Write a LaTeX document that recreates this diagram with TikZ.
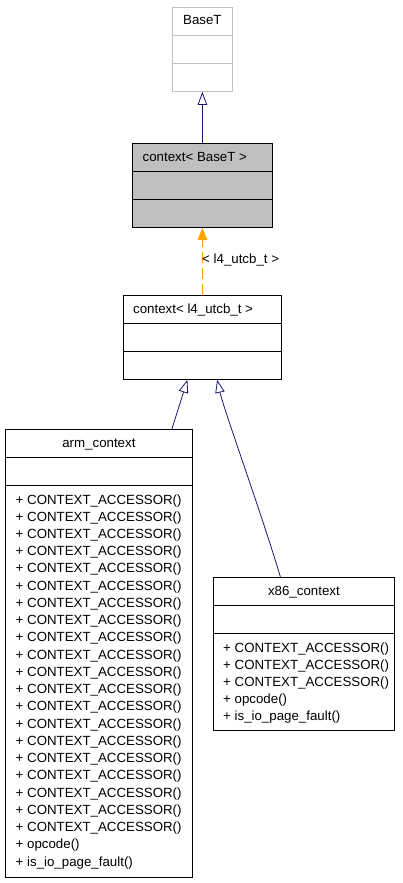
\documentclass[tikz,border=0pt]{standalone}
\usepackage{fontspec}
\setmainfont{Liberation Sans}
\usetikzlibrary{arrows.meta,calc}
\definecolor{edgeblue}{HTML}{191970}
\definecolor{edgeorange}{HTML}{FFA500}
\definecolor{boxgray}{HTML}{BFBFBF}
\tikzset{
  classbox/.style={draw=black, fill=white, line width=0.8pt, rectangle, inner sep=0pt, anchor=north west},
  divider/.style={line width=0.8pt},
  txt/.style={inner sep=0pt, font=\fontsize{13.3}{17.2}\selectfont, anchor=base west},
  ttl/.style={txt, anchor=base},
  inherit/.style={draw=edgeblue, line width=0.8pt, -{Triangle[open, length=13pt, width=9.5pt]}},
  tmpl/.style={draw=edgeorange, line width=0.8pt, dash pattern=on 11pt off 5pt, -{Triangle[length=12pt, width=9.5pt]}},
}
\begin{document}
\begin{tikzpicture}[x=1pt,y=-1pt]
\useasboundingbox (0,0) rectangle (403,883);

% BaseT
\node[classbox, draw=boxgray, minimum width=60pt, minimum height=84pt] (baseT) at (172,7) {};
\draw[divider, boxgray] ($(baseT.north west)+(0,28)$) -- ($(baseT.north east)+(0,28)$);
\draw[divider, boxgray] ($(baseT.north west)+(0,56)$) -- ($(baseT.north east)+(0,56)$);
\node[ttl] (baseTname) at ($(baseT.north)+(0,18)$) {BaseT};

% context< BaseT >
\node[classbox, fill=boxgray, minimum width=140pt, minimum height=84pt] (ctxB) at (132,143) {};
\draw[divider] ($(ctxB.north west)+(0,28)$) -- ($(ctxB.north east)+(0,28)$);
\draw[divider] ($(ctxB.north west)+(0,56)$) -- ($(ctxB.north east)+(0,56)$);
\node[txt] (ctxBname) at ($(ctxB.north west)+(10.5,18)$) {context< BaseT >};

% context< l4_utcb_t >
\node[classbox, minimum width=158pt, minimum height=84pt] (ctxL) at (123,295) {};
\draw[divider] ($(ctxL.north west)+(0,28)$) -- ($(ctxL.north east)+(0,28)$);
\draw[divider] ($(ctxL.north west)+(0,56)$) -- ($(ctxL.north east)+(0,56)$);
\node[txt] (ctxLname) at ($(ctxL.north west)+(10,18)$) {context< l4\_utcb\_t >};

% arm_context
\node[classbox, minimum width=187pt, minimum height=448pt] (arm) at (5,429) {};
\draw[divider] ($(arm.north west)+(0,28)$) -- ($(arm.north east)+(0,28)$);
\draw[divider] ($(arm.north west)+(0,56)$) -- ($(arm.north east)+(0,56)$);
\node[ttl] (armname) at ($(arm.north)+(0,18)$) {arm\_context};
\foreach \i in {0,...,19}
  \node[txt] (armm\i) at ($(arm.north west)+(10.5,75+\i*17.24)$) {+ CONTEXT\_ACCESSOR()};
\node[txt] (armop) at ($(arm.north west)+(10.5,75+20*17.24)$) {+ opcode()};
\node[txt] (armio) at ($(arm.north west)+(10.5,75+21*17.24)$) {+ is\_io\_page\_fault()};

% x86_context
\node[classbox, minimum width=181pt, minimum height=153pt] (x86) at (213,577) {};
\draw[divider] ($(x86.north west)+(0,28)$) -- ($(x86.north east)+(0,28)$);
\draw[divider] ($(x86.north west)+(0,56)$) -- ($(x86.north east)+(0,56)$);
\node[ttl] (x86name) at ($(x86.north)+(0,18)$) {x86\_context};
\foreach \i in {0,1,2}
  \node[txt] (x86m\i) at ($(x86.north west)+(10,75+\i*17.1)$) {+ CONTEXT\_ACCESSOR()};
\node[txt] (x86op) at ($(x86.north west)+(10,75+3*17.1)$) {+ opcode()};
\node[txt] (x86io) at ($(x86.north west)+(10,75+4*17.1)$) {+ is\_io\_page\_fault()};

% edges
\draw[inherit] (ctxB.north) -- (baseT.south);
\draw[tmpl] (ctxL.north) -- (ctxB.south);
\node[txt] (tlabel) at (202,263) {< l4\_utcb\_t >};
\draw[inherit] ([xshift=73pt]arm.north) -- ([xshift=-15pt]ctxL.south);
\draw[inherit] ([xshift=-23.5pt]x86.north) .. controls (262,515) and (224,410) .. ([xshift=14.7pt]ctxL.south);
\end{tikzpicture}
\end{document}
